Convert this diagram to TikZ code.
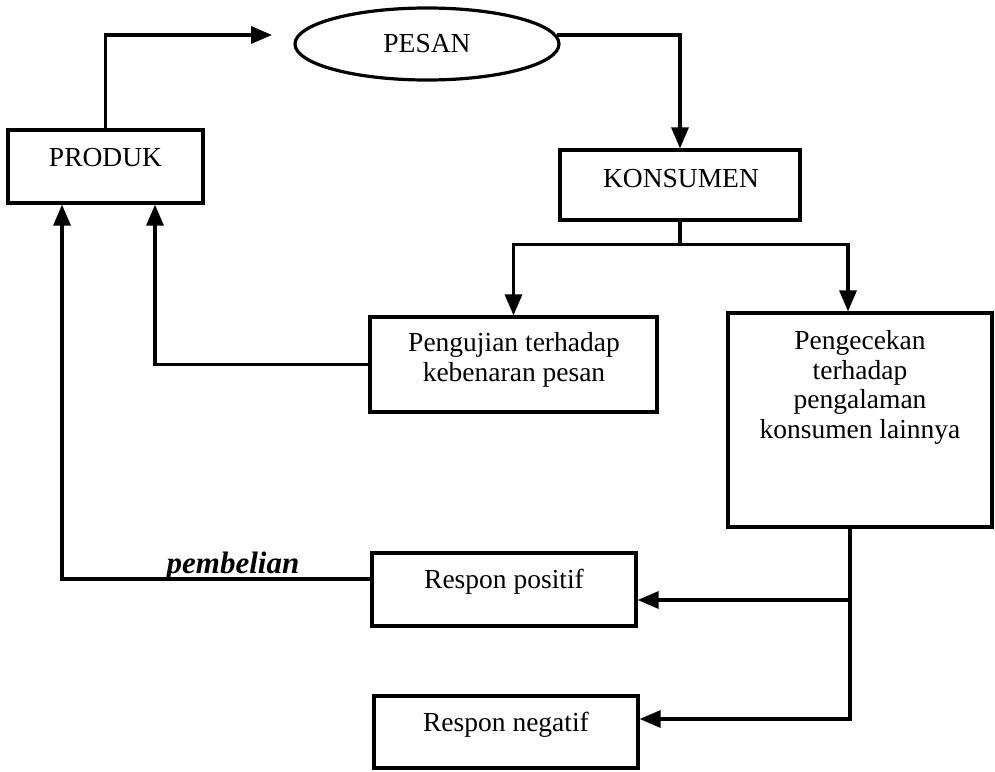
\documentclass[tikz,border=0pt]{standalone}
\usepackage{fontspec}
\setmainfont{Liberation Serif}
\usetikzlibrary{arrows.meta,shapes.geometric}
\begin{document}
\begin{tikzpicture}[x=1pt,y=-1pt,
  line width=3.2pt,
  box/.style={draw, line width=3.2pt, rectangle, inner sep=0pt},
  oval/.style={draw, line width=3.2pt, ellipse, inner sep=0pt},
  txt/.style={font=\fontsize{27.5}{29.5}\selectfont, align=center, inner sep=0pt, anchor=base},
  arr/.style={-{Triangle[length=21pt,width=17pt]}},
]
\useasboundingbox (0,0) rectangle (995,771);
\fill[white] (0,0) rectangle (995,771);

\node[box, minimum width=195pt, minimum height=73pt] (produk) at (105.5,166.5) {};
\node[oval, minimum width=264pt, minimum height=72pt] (pesan) at (427,44) {};
\node[box, minimum width=240pt, minimum height=70pt] (konsumen) at (680,185) {};
\node[box, minimum width=287pt, minimum height=95pt] (pengujian) at (513.5,364.5) {};
\node[box, minimum width=264pt, minimum height=214pt] (pengecekan) at (860,420) {};
\node[box, minimum width=264pt, minimum height=73pt] (positif) at (504,589.5) {};
\node[box, minimum width=264pt, minimum height=72pt] (negatif) at (506,732) {};

\node[txt] (produkT) at (105.5,166) {PRODUK};
\node[txt] (pesanT) at (427,52) {PESAN};
\node[txt] (konsumenT) at (681,187) {KONSUMEN};
\node[txt] (pengujianT) at (514,381) {Pengujian terhadap\\kebenaran pesan};
\node[txt] (pengecekanT) at (860,438) {Pengecekan\\terhadap\\pengalaman\\konsumen lainnya};
\node[txt] (positifT) at (504,588) {Respon positif};
\node[txt] (negatifT) at (506,731) {Respon negatif};
\node[txt, font=\fontsize{31}{33}\selectfont\bfseries\itshape] (pembelianT) at (233,573) {pembelian};

\coordinate (tipA) at (272,35);
\draw[arr] (produk.north) |- (tipA);
\draw[arr] (pesan.4) -| (konsumen.north);
\draw (konsumen.south) -- ++(0,23) coordinate (kb);
\draw[arr] (kb) -| (pengujian.north);
\draw[arr] (kb) -| ([xshift=-12pt]pengecekan.north);
\draw[arr] (pengujian.west) -| ([xshift=49.5pt]produk.south);
\draw[arr] ([yshift=10.5pt]positif.west) -| ([xshift=-43.5pt]produk.south);
\draw[arr] ([xshift=-10pt]pengecekan.south) |- ([yshift=-10.5pt]positif.east);
\draw[arr] ([xshift=-10pt]pengecekan.south) |- ([yshift=13pt]negatif.east);
\end{tikzpicture}
\end{document}
